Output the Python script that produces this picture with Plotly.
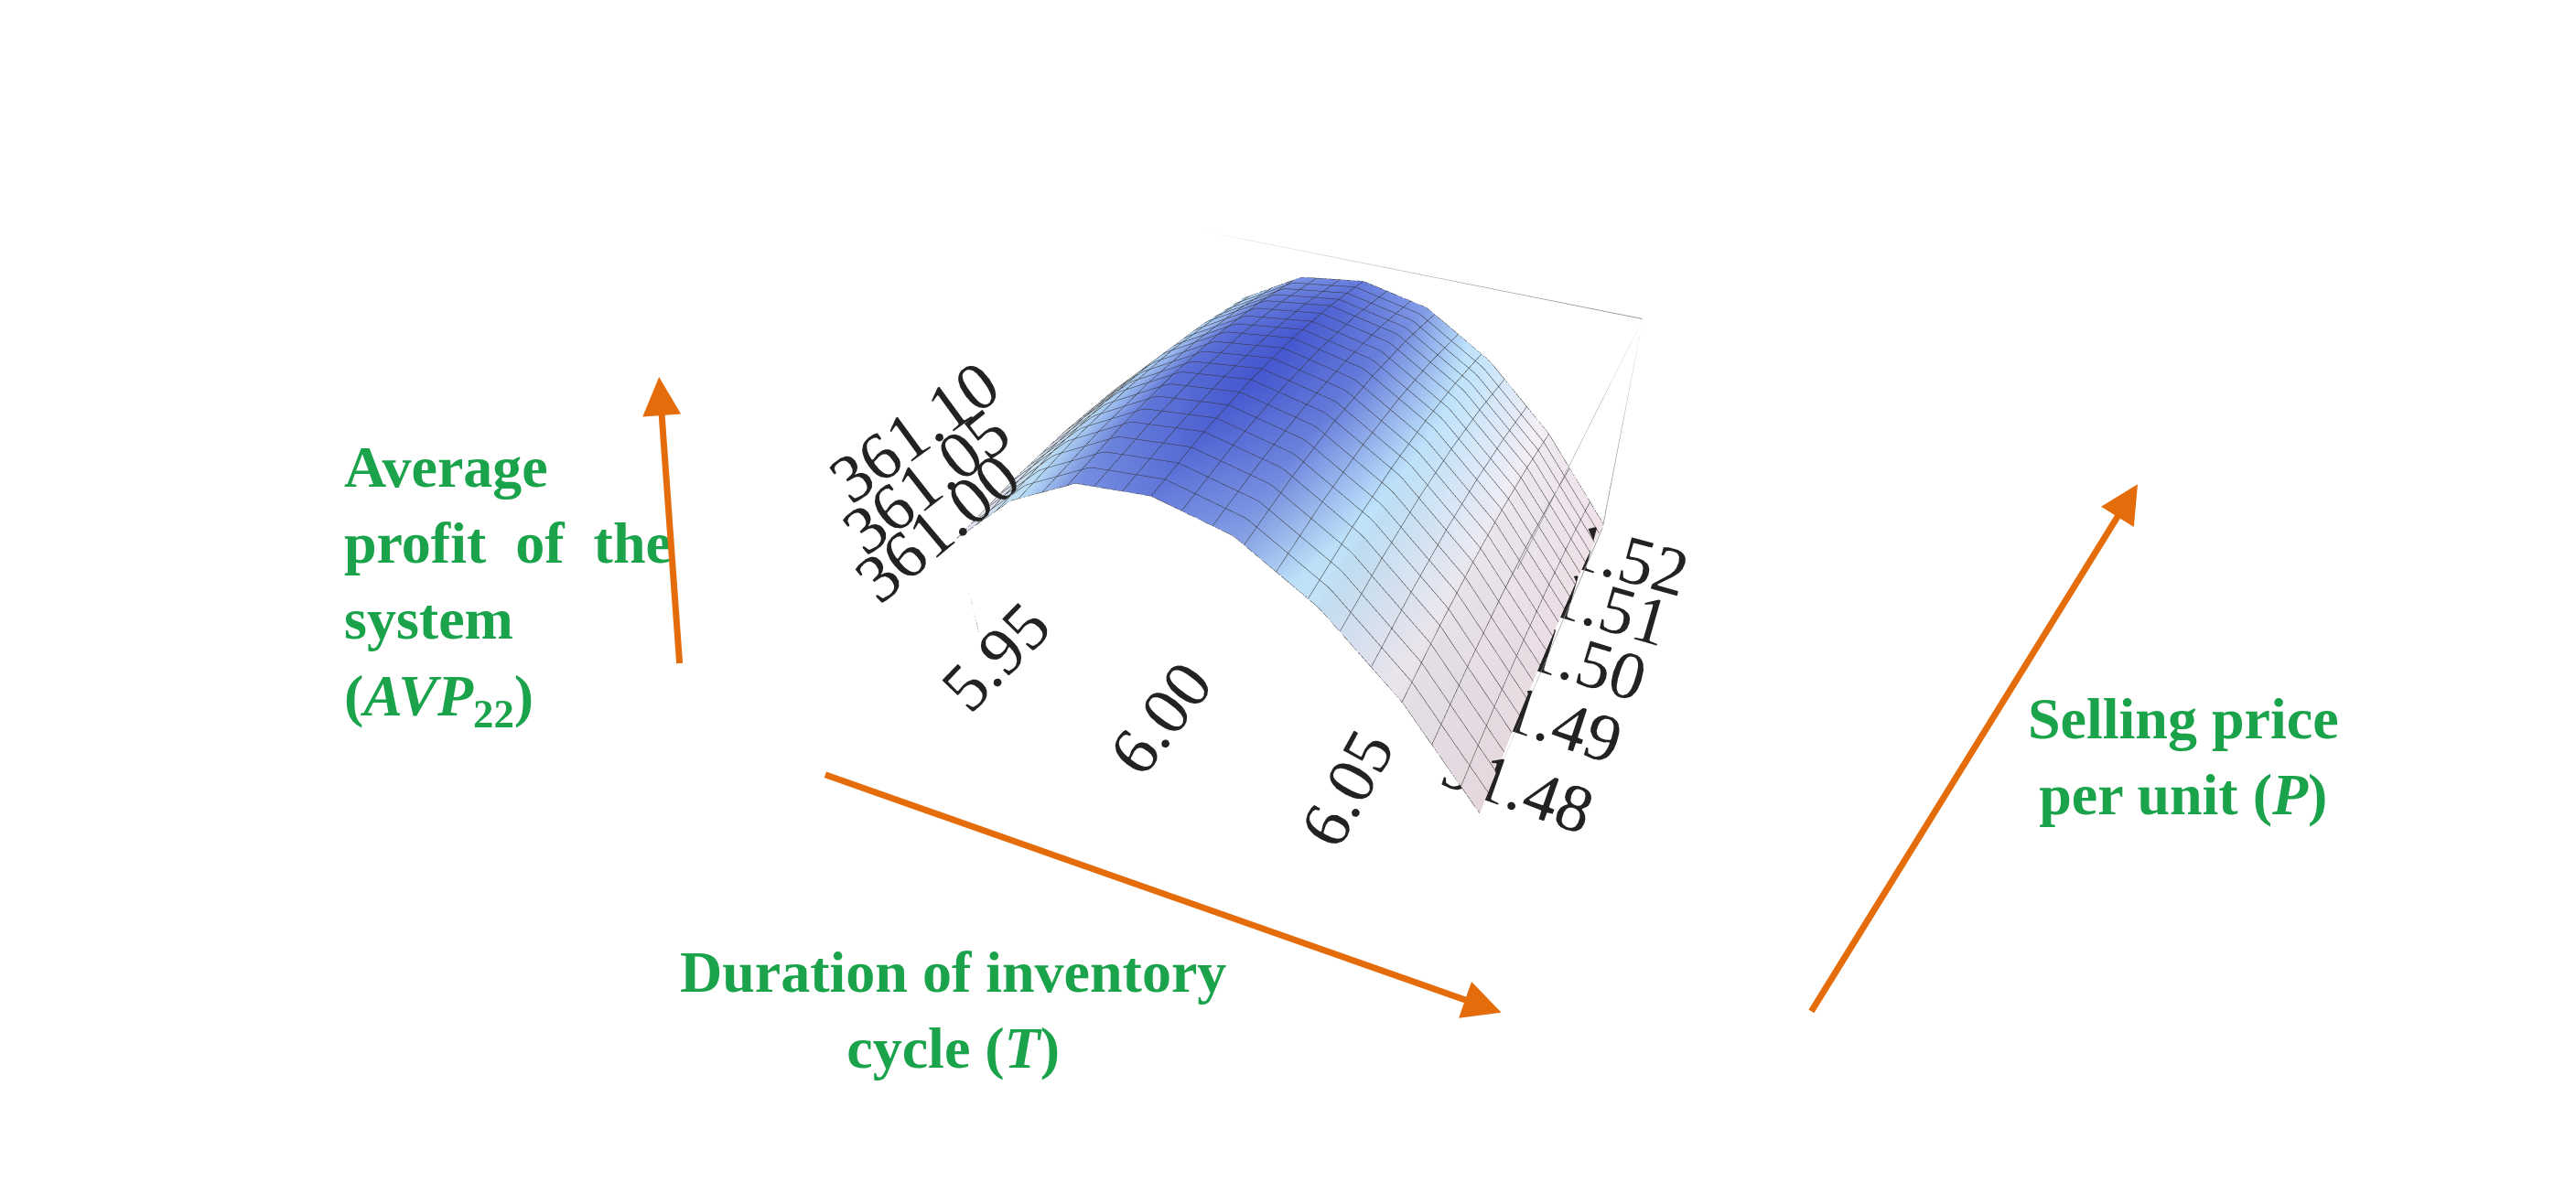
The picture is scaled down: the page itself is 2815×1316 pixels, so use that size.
import plotly.graph_objects as go

# duration of inventory cycle T, selling price P, average profit AVP22
T = [5.94, 5.96, 5.98, 6.00, 6.02, 6.04, 6.06, 6.08]
P = [91.475, 91.485, 91.495, 91.505, 91.515, 91.525]
Z = [
    [360.975, 360.985, 360.990, 360.990, 360.985, 360.975],
    [361.040, 361.050, 361.055, 361.055, 361.050, 361.040],
    [361.080, 361.090, 361.095, 361.095, 361.090, 361.080],
    [361.090, 361.100, 361.105, 361.105, 361.100, 361.090],
    [361.075, 361.085, 361.090, 361.090, 361.085, 361.075],
    [361.030, 361.040, 361.045, 361.045, 361.040, 361.030],
    [360.960, 360.970, 360.975, 360.975, 360.970, 360.960],
    [360.865, 360.875, 360.880, 360.880, 360.875, 360.865],
]
z_grid = [list(r) for r in zip(*Z)]  # rows = P, cols = T

green = "#1aa34a"
orange = "#e46c0a"
serif = "Liberation Serif"
W, H = 2815, 1316

fig = go.Figure()
fig.add_trace(go.Surface(
    x=T, y=P, z=z_grid, showscale=False,
    colorscale=[[0, "#f6e6ee"], [0.45, "#f3eef6"], [0.75, "#bfe3fb"], [1, "#4658cf"]],
    contours=dict(
        x=dict(show=True, color="#333", width=1, start=5.94, end=6.08, size=0.0075),
        y=dict(show=True, color="#333", width=1, start=91.475, end=91.525, size=0.0025),
    ),
    lighting=dict(ambient=0.8, diffuse=0.4, specular=0.1),
))

# bounding box edges
x0, x1 = min(T), max(T)
y0, y1 = min(P), max(P)
z0, z1 = 360.86, 361.11
bx, by, bz = [], [], []
for a, b in [((x0, y0), (x1, y0)), ((x1, y0), (x1, y1)), ((x1, y1), (x0, y1)), ((x0, y1), (x0, y0))]:
    for zz in (z0, z1):
        bx += [a[0], b[0], None]; by += [a[1], b[1], None]; bz += [zz, zz, None]
for cx in (x0, x1):
    for cy in (y0, y1):
        bx += [cx, cx, None]; by += [cy, cy, None]; bz += [z0, z1, None]
fig.add_trace(go.Scatter3d(x=bx, y=by, z=bz, mode="lines",
                           line=dict(color="#999", width=2), hoverinfo="skip", showlegend=False))

ax_style = dict(showbackground=False, showgrid=False, zeroline=False, title="",
                tickfont=dict(family=serif, size=30, color="#222"), showspikes=False)
fig.update_layout(
    width=W, height=H, paper_bgcolor="white", margin=dict(l=0, r=0, t=0, b=0),
    scene=dict(
        domain=dict(x=[0.25, 0.76], y=[0.22, 1.0]),
        xaxis=dict(ax_style, range=[x0, x1], tickvals=[5.95, 6.00, 6.05], ticktext=["5.95", "6.00", "6.05"]),
        yaxis=dict(ax_style, range=[y0, y1], tickvals=[91.48, 91.49, 91.50, 91.51, 91.52],
                   ticktext=["91.48", "91.49", "91.50", "91.51", "91.52"]),
        zaxis=dict(ax_style, range=[z0, z1], tickvals=[361.00, 361.05, 361.10],
                   ticktext=["361.00", "361.05", "361.10"]),
        aspectmode="manual", aspectratio=dict(x=1.2, y=1.0, z=0.6),
        camera=dict(eye=dict(x=0.9, y=-1.9, z=1.5)),
    ),
)

font = dict(family=serif, size=64, color=green)
fig.add_annotation(x=0.13, y=0.52, xref="paper", yref="paper", showarrow=False, align="left",
                   text="<b>Average<br>profit  of  the<br>system<br>(<i>AVP</i><sub>22</sub>)</b>", font=font)
fig.add_annotation(x=0.367, y=0.107, xref="paper", yref="paper", showarrow=False, align="center",
                   text="<b>Duration of inventory<br>cycle (<i>T</i>)</b>", font=font)
fig.add_annotation(x=0.906, y=0.318, xref="paper", yref="paper", showarrow=False, align="center",
                   text="<b>Selling price<br>per unit (<i>P</i>)</b>", font=font)

for (tx, ty), (hx, hy) in [((0.261, 0.454), (0.253, 0.693)),
                           ((0.317, 0.363), (0.580, 0.165)),
                           ((0.700, 0.165), (0.827, 0.604))]:
    fig.add_annotation(x=hx, y=hy, ax=(tx - hx) * W, ay=-(ty - hy) * H, xref="paper", yref="paper",
                       showarrow=True, arrowhead=2, arrowsize=1.2, arrowwidth=7, arrowcolor=orange, text="")

fig.write_html("out.html")
